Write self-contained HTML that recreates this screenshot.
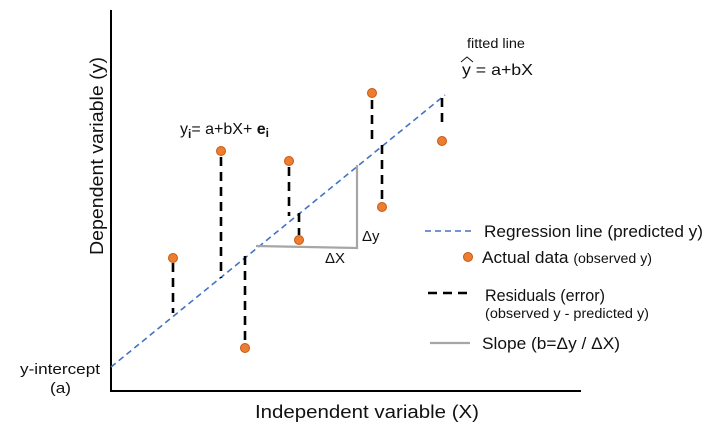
<!DOCTYPE html>
<html><head><style>body{margin:0;background:#fff}svg{display:block}text{font-family:"Liberation Sans",sans-serif;fill:#111}</style></head><body>
<svg width="710" height="430" viewBox="0 0 710 430">
<line x1="111" y1="10" x2="111" y2="392" stroke="#000" stroke-width="2"/>
<line x1="110" y1="391" x2="581" y2="391" stroke="#000" stroke-width="2"/>
<line x1="111" y1="367" x2="445" y2="95" stroke="#4472c4" stroke-width="1.6" stroke-dasharray="6,4"/>
<polyline points="256,246 357,248 357,165" fill="none" stroke="#a6a6a6" stroke-width="2.2"/>
<g stroke="#000" stroke-width="2.6" stroke-dasharray="9,6">
<line x1="173" y1="263" x2="173" y2="313"/>
<line x1="221" y1="157" x2="221" y2="278"/>
<line x1="245" y1="256" x2="245" y2="343"/>
<line x1="289" y1="167" x2="289" y2="216"/>
<line x1="299" y1="213" x2="299" y2="235"/>
<line x1="372" y1="100" x2="372" y2="145"/>
<line x1="382" y1="145" x2="382" y2="200"/>
<line x1="442" y1="98" x2="442" y2="128"/>
</g>
<g fill="#ed7d31" stroke="#c55a11" stroke-width="1">
<circle cx="173" cy="258" r="4.5"/><circle cx="221" cy="151" r="4.5"/><circle cx="245" cy="348" r="4.5"/>
<circle cx="289" cy="161" r="4.5"/><circle cx="299" cy="240" r="4.5"/><circle cx="372" cy="93" r="4.5"/>
<circle cx="382" cy="207" r="4.5"/><circle cx="442" cy="141" r="4.5"/><circle cx="468" cy="257" r="4.5"/>
</g>
<text x="362" y="241" font-size="15">Δy</text>
<text x="325" y="263" font-size="15">ΔX</text>
<text x="467" y="48" font-size="13.5" textLength="58" lengthAdjust="spacingAndGlyphs">fitted line</text>
<text x="462" y="75" font-size="16" textLength="71" lengthAdjust="spacingAndGlyphs">y = a+bX</text>
<path d="M461 62 L467 57 L473 62" fill="none" stroke="#111" stroke-width="1"/>
<text x="180" y="134" font-size="16">y<tspan font-size="12" dy="4" font-weight="bold">i</tspan><tspan dy="-4">= a+bX+ </tspan><tspan font-weight="bold">e</tspan><tspan font-size="12" dy="3" font-weight="bold">i</tspan></text>
<line x1="425" y1="231" x2="475" y2="231" stroke="#4472c4" stroke-width="1.6" stroke-dasharray="6,4"/>
<text x="484" y="237" font-size="16.5" textLength="219" lengthAdjust="spacingAndGlyphs">Regression line (predicted y)</text>
<text x="482" y="263" font-size="16.5" textLength="170" lengthAdjust="spacingAndGlyphs">Actual data <tspan font-size="13.5">(observed y)</tspan></text>
<line x1="428" y1="293" x2="473" y2="293" stroke="#000" stroke-width="2.6" stroke-dasharray="9,6"/>
<text x="485" y="301" font-size="16.5" textLength="120" lengthAdjust="spacingAndGlyphs">Residuals (error)</text>
<text x="485" y="318" font-size="13.5" textLength="164" lengthAdjust="spacingAndGlyphs">(observed y - predicted y)</text>
<line x1="430" y1="343" x2="470" y2="343" stroke="#a6a6a6" stroke-width="2.2"/>
<text x="482" y="349" font-size="16.5" textLength="138" lengthAdjust="spacingAndGlyphs">Slope (b=Δy / ΔX)</text>
<text x="255" y="418" font-size="18" textLength="224" lengthAdjust="spacingAndGlyphs">Independent variable (X)</text>
<text transform="translate(103,255) rotate(-90)" font-size="18" textLength="198" lengthAdjust="spacingAndGlyphs">Dependent variable (y)</text>
<text x="20" y="374" font-size="14.5" textLength="80" lengthAdjust="spacingAndGlyphs">y-intercept</text>
<text x="50" y="393" font-size="14.5" textLength="21" lengthAdjust="spacingAndGlyphs">(a)</text>
</svg>
</body></html>
